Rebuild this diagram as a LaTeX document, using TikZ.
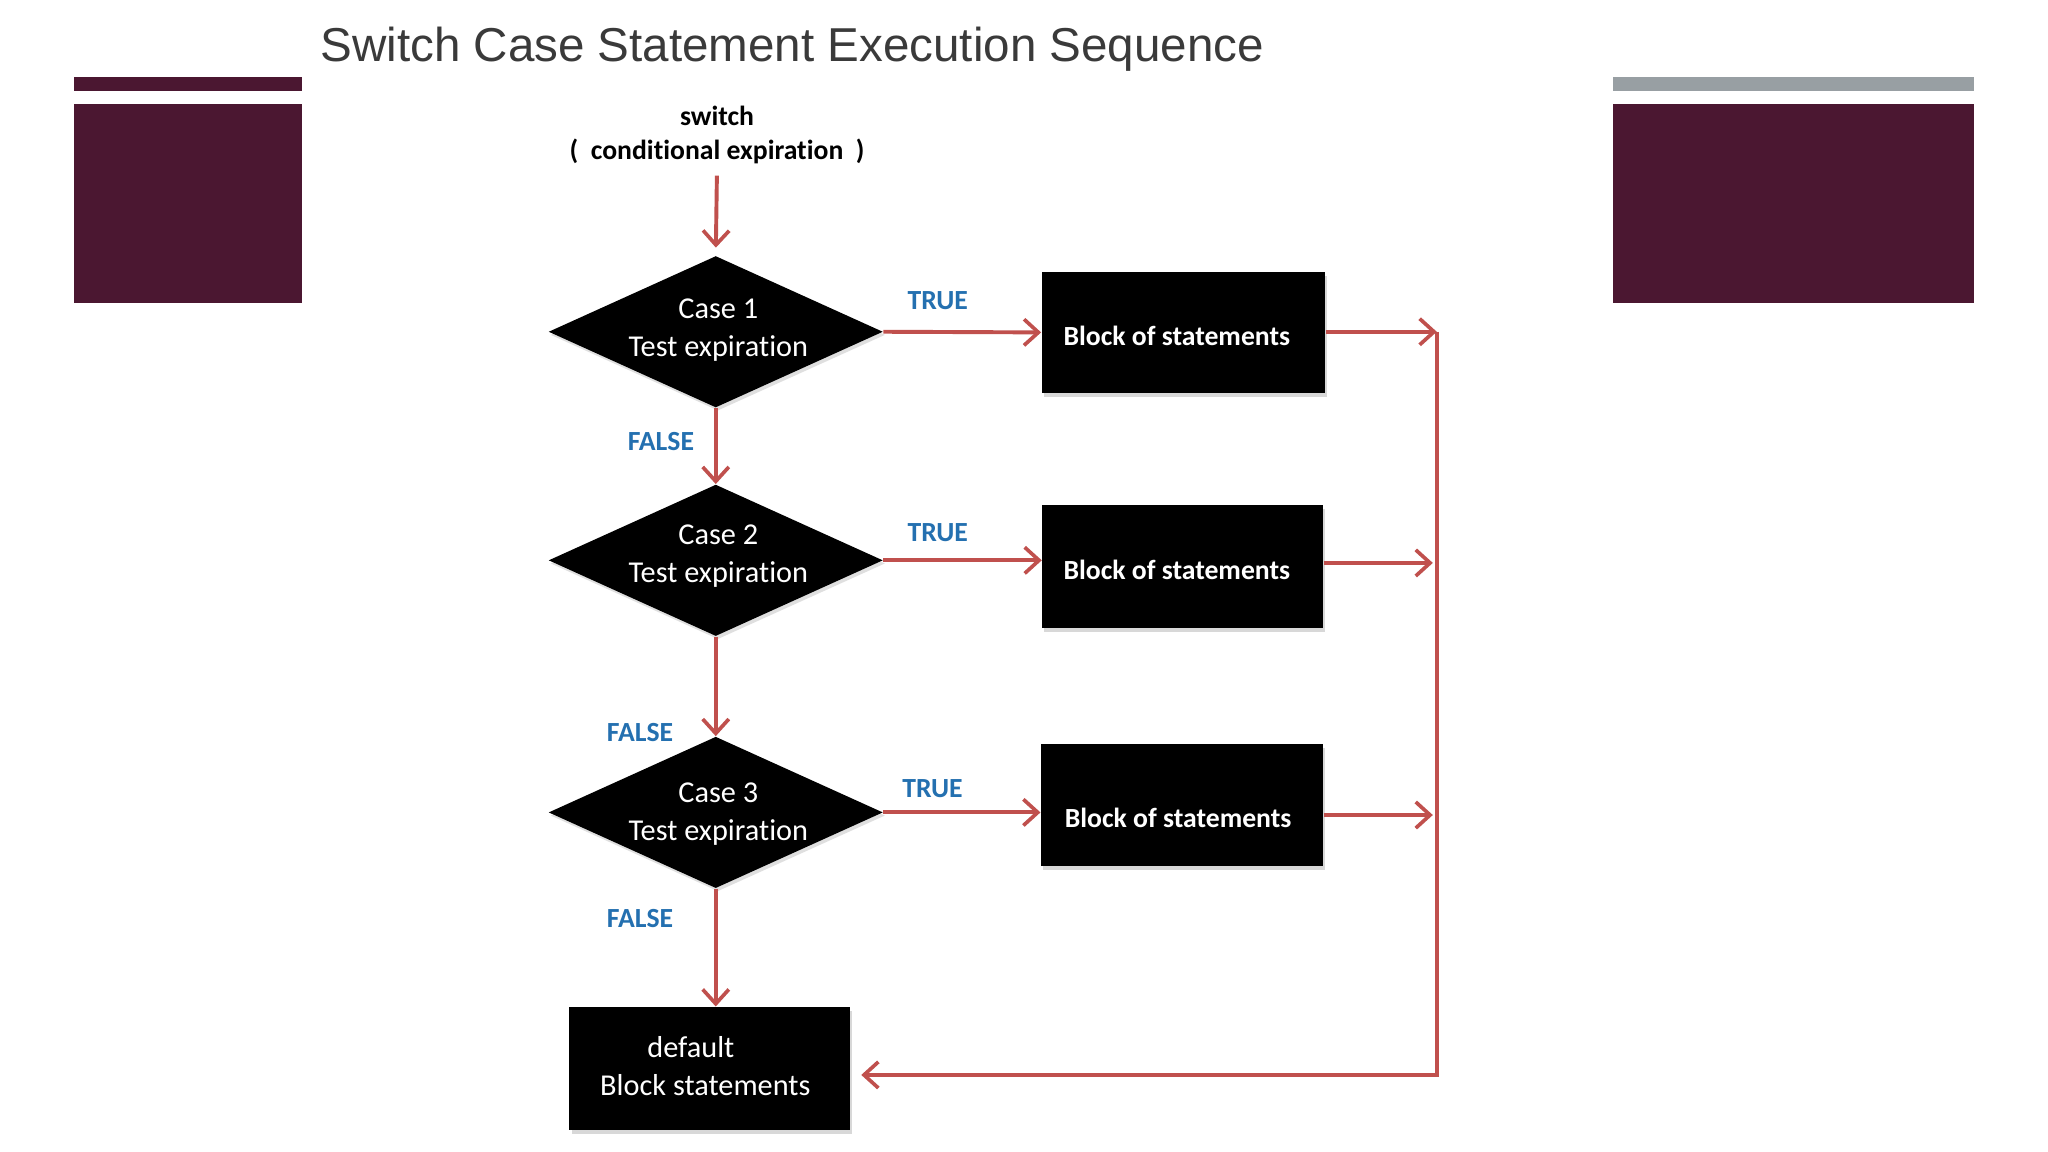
\documentclass[tikz,border=0pt]{standalone}
\usepackage{fontspec}
\setmainfont{Carlito}[Ligatures=NoCommon]
\newfontfamily\titlefont{Liberation Sans}
\usetikzlibrary{shapes.geometric,arrows.meta,shadows}
\definecolor{maroon}{HTML}{4B1731}
\definecolor{barg}{HTML}{989FA3}
\definecolor{arred}{HTML}{C0504D}
\definecolor{lblue}{HTML}{2470B0}
\definecolor{ttl}{HTML}{3A3A3A}
\tikzset{
  diam/.style={diamond, fill=black, draw=none, minimum width=128pt, minimum height=58pt, inner sep=0pt, drop shadow={shadow xshift=0.8pt, shadow yshift=-1.2pt, opacity=0.25}},
  blk/.style={rectangle, fill=black, draw=none, inner sep=0pt, drop shadow={shadow xshift=0.8pt, shadow yshift=-1.5pt, opacity=0.3}},
  dtext/.style={text=white, align=center, inner sep=0pt, font=\fontsize{11.6}{14.5}\selectfont},
  btext/.style={text=white, align=center, inner sep=0pt, font=\bfseries\fontsize{10.6}{14.5}\selectfont},
  tf/.style={text=lblue, inner sep=0pt, font=\bfseries\fontsize{10.6}{12}\selectfont},
  arr/.style={draw=arred, line width=1.5pt, -{Straight Barb[length=5.5pt,width=10pt,line width=1.4pt]}},
}
\begin{document}
\begin{tikzpicture}[x=0.5pt, y=-0.5pt]
\useasboundingbox (0,0) rectangle (1568,882);
\fill[white] (0,0) rectangle (1568,882);
% decorative bars
\fill[maroon] (57,59) rectangle (231,70);
\fill[maroon] (57,80) rectangle (231,232);
\fill[barg] (1235,59) rectangle (1511,70);
\fill[maroon] (1235,80) rectangle (1511,232);
% title
\node[anchor=base west, inner sep=0pt, text=ttl, font=\titlefont\fontsize{18.2}{20}\selectfont] (title) at (245,47) {Switch Case Statement Execution Sequence};
% switch text
\node[align=center, inner sep=0pt, font=\bfseries\fontsize{10.6}{13}\selectfont] (sw) at (549,103) {switch\\( \ conditional expiration \ )};
% diamonds
\node[diam] (d1) at (548,254) {};
\node[diam] (d2) at (548,429) {};
\node[diam] (d3) at (548,622) {};
\node[dtext] (t1) at (550,253) {Case 1\\Test expiration};
\node[dtext] (t2) at (550,426) {Case 2\\Test expiration};
\node[dtext] (t3) at (550,623) {Case 3\\Test expiration};
% blocks
\node[blk, minimum width=108.5pt, minimum height=46.5pt] (b1) at (906,254.5) {};
\node[blk, minimum width=107.5pt, minimum height=47pt] (b2) at (905.5,434) {};
\node[blk, minimum width=108pt, minimum height=46.5pt] (b3) at (905,616.5) {};
\node[blk, minimum width=107.5pt, minimum height=47pt] (df) at (543.5,818) {};
\node[btext] (bt1) at (901,257) {Block of statements};
\node[btext] (bt2) at (901,436) {Block of statements};
\node[btext] (bt3) at (902,626) {Block of statements};
\node[dtext] (dft) at (540,816) {\hspace*{-11pt}default\\Block statements};
% labels
\node[tf] (T1) at (718,230) {TRUE};
\node[tf] (T2) at (718,408) {TRUE};
\node[tf] (T3) at (714,604) {TRUE};
\node[tf] (F1) at (506,338) {FALSE};
\node[tf] (F2) at (490,561) {FALSE};
\node[tf] (F3) at (490,703) {FALSE};
% coordinates
\coordinate (c1) at (1100,254);
\coordinate (c2) at (1100,431);
\coordinate (c3) at (1100,624);
\coordinate (c4) at (1100,823);
% connectors
\draw[arr, shorten <=4.5pt, shorten >=3pt] (sw.south) -- (d1.north);
\draw[arr] (d1.east) -- (b1.west);
\draw[arr] (d2.east) -- (b2.west |- d2.east);
\draw[arr] (d3.east) -- (b3.west |- d3.east);
\draw[arr] (d1.south) -- (d2.north);
\draw[arr] (d2.south) -- (d3.north);
\draw[arr] (d3.south) -- (d3.south |- df.north);
\draw[arr] (b1.east |- c1) -- (c1);
\draw[arr, shorten >=1.5pt] (b2.east |- c2) -- (c2);
\draw[arr, shorten >=1.5pt] (b3.east |- c3) -- (c3);
\draw[arr, shorten >=4pt] (c1) -- (c4) -- (df.east |- c4);
\end{tikzpicture}
\end{document}
